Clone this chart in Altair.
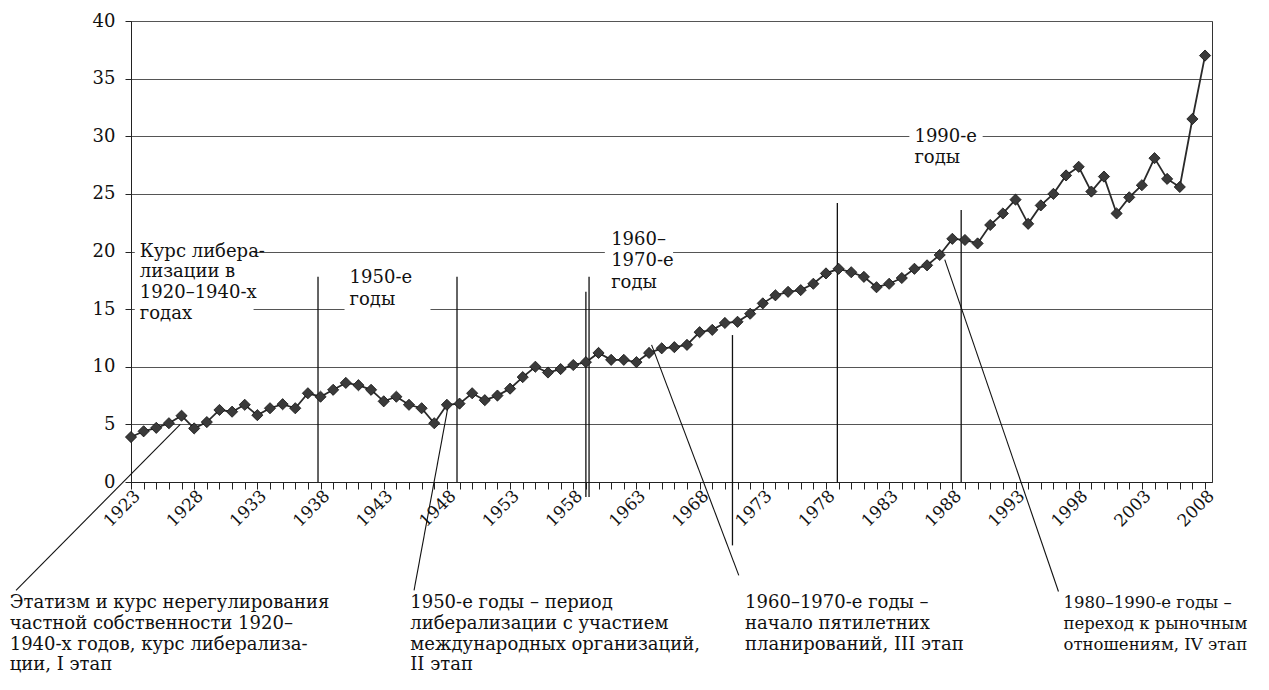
import altair as alt
import pandas as pd

# ---- data ----
years = list(range(1923, 2009))
values = [3.9, 4.4, 4.7, 5.1, 5.75, 4.65, 5.2, 6.25, 6.1, 6.7,
          5.8, 6.4, 6.75, 6.4, 7.7, 7.4, 8.0, 8.6, 8.4, 8.0,
          7.0, 7.4, 6.7, 6.4, 5.1, 6.7, 6.8, 7.7, 7.1, 7.5,
          8.1, 9.1, 10.0, 9.5, 9.8, 10.15, 10.4, 11.2, 10.6, 10.6,
          10.4, 11.2, 11.6, 11.7, 11.9, 13.0, 13.2, 13.8, 13.9, 14.6,
          15.5, 16.2, 16.5, 16.65, 17.2, 18.1, 18.5, 18.2, 17.8, 16.9,
          17.2, 17.7, 18.5, 18.8, 19.7, 21.1, 21.0, 20.7, 22.3, 23.3,
          24.5, 22.4, 24.0, 25.0, 26.6, 27.35, 25.2, 26.5, 23.3, 24.7,
          25.75, 28.1, 26.3, 25.6, 31.5, 37.0]

y_ticks = [0, 5, 10, 15, 20, 25, 30, 35, 40]

# vertical marker lines (year, from, to)
vl_year = [1937.8, 1948.8, 1959.0, 1959.25, 1970.6, 1978.9, 1988.7]
vl_from = [0, 0, -1.3, -1.3, -5.5, 0, 0]
vl_to = [17.8, 17.8, 16.5, 17.8, 12.75, 24.2, 23.6]

# pointer lines (start year, start value, end year, end value)
pl_year = [1913.9, 1945.4, 1971.1, 1996.4]
pl_value = [-9.4, -9.4, -8.1, -9.5]
pl_year2 = [1926.9, 1948.1, 1964.2, 1987.4]
pl_value2 = [5.0, 6.6, 11.9, 19.3]

# in-plot labels
in_text = ["Курс либера-", "лизации в", "1920–1940-х", "годах",
           "1950-е", "годы",
           "1960–", "1970-е", "годы",
           "1990-е", "годы"]
in_year = [1923.7] * 4 + [1940.3] * 2 + [1961.0] * 3 + [1985.0] * 2
in_value = [20.0, 18.2, 16.4, 14.6, 17.7, 15.8, 21.0, 19.2, 17.3, 29.9, 28.1]

# white boxes behind in-plot labels (interrupting grid lines)
bx_year = [1923.3, 1939.9, 1960.5, 1984.6]
bx_year2 = [1932.7, 1946.7, 1965.9, 1990.4]
bx_value = [21.0, 18.6, 22.1, 31.0]
bx_value2 = [13.6, 14.9, 16.2, 27.0]

# bottom captions
cap_text = ["Этатизм и курс нерегулирования", "частной собственности 1920–",
            "1940-х годов, курс либерализа-", "ции, I этап",
            "1950-е годы – период", "либерализации с участием",
            "международных организаций,", "II этап",
            "1960–1970-е годы –", "начало пятилетних", "планирований, III этап"]
cap_year = [1913.4] * 4 + [1945.1] * 4 + [1971.6] * 3
cap_row = [0, 1, 2, 3, 0, 1, 2, 3, 0, 1, 2]
row_values = [-10.5, -12.3, -14.1, -15.9]
cap_value = [row_values[r] for r in cap_row]

cap4_text = ["1980–1990-е годы –", "переход к рыночным", "отношениям, IV этап"]
cap4_year = [1996.8] * 3
cap4_value = row_values[:3]

# ---- frames ----
df = pd.DataFrame({"year": years, "value": values})
vl_df = pd.DataFrame({"year": vl_year, "value": vl_from, "value2": vl_to})
pl_df = pd.DataFrame({"year": pl_year, "value": pl_value,
                      "year2": pl_year2, "value2": pl_value2})
in_df = pd.DataFrame({"year": in_year, "value": in_value, "t": in_text})
bx_df = pd.DataFrame({"year": bx_year, "year2": bx_year2,
                      "value": bx_value, "value2": bx_value2})
cap_df = pd.DataFrame({"year": cap_year, "value": cap_value, "t": cap_text})
cap4_df = pd.DataFrame({"year": cap4_year, "value": cap4_value, "t": cap4_text})

FONT = "DejaVu Serif"

x_scale = alt.Scale(domain=[1923, 2008.55], nice=False, zero=False)
y_scale = alt.Scale(domain=[0, 40], nice=False, zero=True)

x_axis = alt.Axis(values=years, format="d",
                  labelExpr="(datum.value - 1923) % 5 == 0 ? datum.label : ''",
                  labelAngle=-45, labelAlign="right", labelBaseline="middle",
                  tickSize=7, tickColor="#222", domainColor="#222",
                  labelFont=FONT, labelFontSize=17, labelColor="#111",
                  labelPadding=4, labelOffset=6, labelOverlap=False,
                  labelFlush=False, labelBound=False, grid=False, title=None)
y_axis = alt.Axis(values=y_ticks, grid=True, gridColor="#555", gridWidth=1,
                  tickSize=6, tickColor="#222", domainColor="#222",
                  labelFont=FONT, labelFontSize=18, labelColor="#111",
                  labelPadding=10, title=None)

X = alt.X("year:Q", scale=x_scale, axis=x_axis)
Y = alt.Y("value:Q", scale=y_scale, axis=y_axis)

boxes = alt.Chart(bx_df).mark_rect(fill="white").encode(
    x=X, x2="year2:Q", y=Y, y2="value2:Q")

vlines = alt.Chart(vl_df).mark_rule(color="#111", strokeWidth=1.3).encode(
    x=X, y=Y, y2="value2:Q")

plines = alt.Chart(pl_df).mark_rule(color="#111", strokeWidth=1.1).encode(
    x=X, y=Y, x2="year2:Q", y2="value2:Q")

line = alt.Chart(df).mark_line(color="#2a2a2a", strokeWidth=1.8).encode(x=X, y=Y)

points = alt.Chart(df).mark_point(shape="diamond", filled=True, size=125,
                                  fill="#3a3a3a", stroke="#111",
                                  strokeWidth=0.8, opacity=1).encode(x=X, y=Y)

in_labels = alt.Chart(in_df).mark_text(align="left", baseline="middle",
                                       font=FONT, fontSize=18,
                                       color="#111").encode(x=X, y=Y, text="t:N")

captions = alt.Chart(cap_df).mark_text(align="left", baseline="middle",
                                       font=FONT, fontSize=18,
                                       color="#111").encode(x=X, y=Y, text="t:N")

captions4 = alt.Chart(cap4_df).mark_text(align="left", baseline="middle",
                                         font=FONT, fontSize=16.5,
                                         color="#111").encode(x=X, y=Y, text="t:N")

chart = alt.layer(boxes, vlines, plines, line, points, in_labels,
                  captions, captions4).properties(
    width=1081, height=461,
    autosize=alt.AutoSizeParams(type="none"),
    padding={"left": 123, "top": 13, "right": 49, "bottom": 198},
    background="white",
).configure_view(stroke="#333", strokeWidth=1)

chart.save("out.html", embed_options={"renderer": "svg", "actions": False})
